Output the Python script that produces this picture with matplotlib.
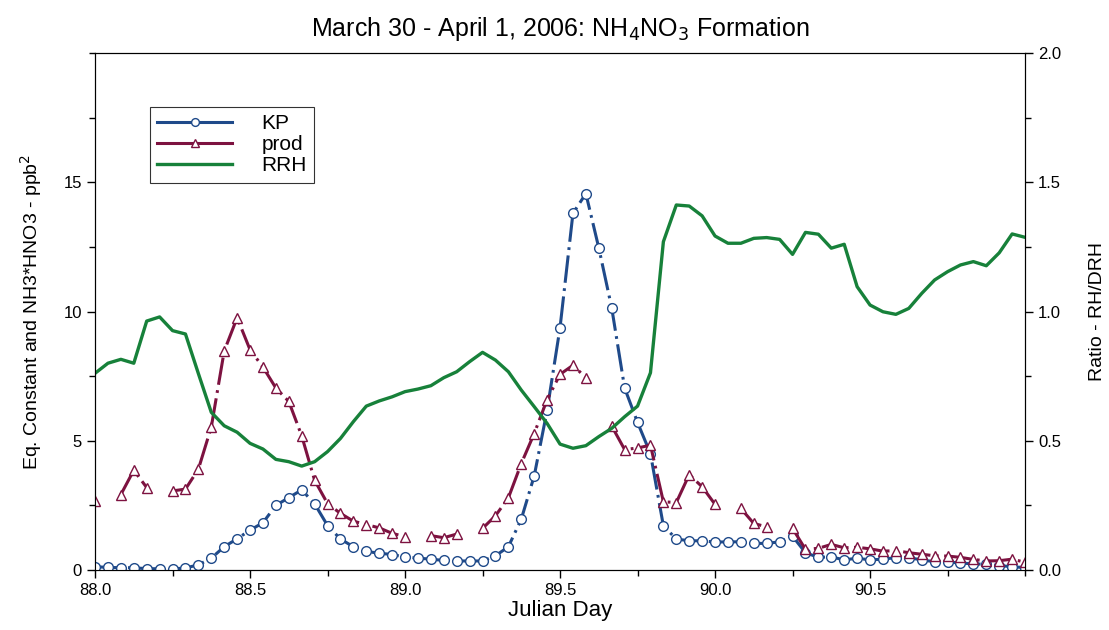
import numpy as np
import matplotlib
matplotlib.use('Agg')
import matplotlib.pyplot as plt
from matplotlib.ticker import MultipleLocator

plt.rcParams['font.family'] = ['Liberation Sans', 'DejaVu Sans']

# hourly samples, day 88.0 to 91.0
hours = np.arange(73)
julian = 88 + hours / 24

kp = [0.13, 0.10, 0.09, 0.09, 0.05, 0.05, 0.04, 0.08, 0.20, 0.46,
      0.90, 1.21, 1.54, 1.83, 2.50, 2.80, 3.10, 2.56, 1.72, 1.20,
      0.90, 0.72, 0.65, 0.60, 0.50, 0.46, 0.42, 0.37, 0.35, 0.35,
      0.35, 0.55, 0.90, 1.97, 3.64, 6.18, 9.38, 13.8, 14.56, 12.46,
      10.14, 7.04, 5.71, 4.50, 1.71, 1.20, 1.13, 1.13, 1.08, 1.09,
      1.09, 1.03, 1.03, 1.09, 1.31, 0.67, 0.49, 0.51, 0.39, 0.46,
      0.39, 0.42, 0.48, 0.48, 0.39, 0.32, 0.30, 0.28, 0.23, 0.23,
      0.17, 0.13, 0.09]

nan = np.nan
prod = [2.68, nan, 2.92, 3.86, 3.19, nan, 3.06, 3.13, 3.90, 5.53,
        8.47, 9.76, 8.52, 7.85, 7.04, 6.52, 5.19, 3.47, 2.57, 2.19,
        1.89, 1.76, 1.63, 1.42, 1.29, nan, 1.33, 1.25, 1.39, nan,
        1.61, 2.10, 2.79, 4.12, 5.28, 6.59, 7.57, 7.92, 7.44, nan,
        5.57, 4.66, 4.72, 4.83, 2.64, 2.61, 3.69, 3.22, 2.54, nan,
        2.38, 1.80, 1.67, nan, 1.61, 0.80, 0.84, 0.99, 0.86, 0.88,
        0.82, 0.73, 0.75, 0.67, 0.61, 0.55, 0.54, 0.49, 0.41, 0.35,
        0.36, 0.42, 0.30]

rrh = [0.761, 0.80, 0.815, 0.80, 0.963, 0.979, 0.926, 0.913, 0.76, 0.61,
       0.558, 0.533, 0.49, 0.468, 0.428, 0.419, 0.402, 0.419, 0.458, 0.509,
       0.574, 0.634, 0.654, 0.67, 0.69, 0.70, 0.713, 0.744, 0.767, 0.806,
       0.842, 0.812, 0.767, 0.696, 0.632, 0.567, 0.487, 0.471, 0.481, 0.516,
       0.548, 0.593, 0.634, 0.763, 1.27, 1.412, 1.408, 1.37, 1.292, 1.264,
       1.264, 1.283, 1.286, 1.279, 1.221, 1.306, 1.299, 1.245, 1.26, 1.096,
       1.025, 0.999, 0.989, 1.012, 1.07, 1.122, 1.154, 1.18, 1.193, 1.177,
       1.227, 1.30, 1.287]

blue = '#1f4a8a'
maroon = '#7d1240'
green = '#17813a'

fig = plt.figure(figsize=(11.09, 6.30), dpi=100)
ax = fig.add_axes([0.0857, 0.0952, 0.8386, 0.8207])
ax2 = ax.twinx()

l1, = ax.plot(julian, kp, color=blue, lw=2.2, ls=(0, (9, 1.8, 0.9, 1.8)),
              marker='o', ms=7, mfc='white', mec=blue, mew=1.0, zorder=3)
l2, = ax.plot(julian, prod, color=maroon, lw=2.2, ls=(0, (9, 1.8, 0.9, 1.8)),
              marker='^', ms=7, mfc='white', mec=maroon, mew=1.0, zorder=3)
l3, = ax2.plot(julian, rrh, color=green, lw=2.4, zorder=2)

ax.set_xlim(88, 91)
ax.set_ylim(0, 20)
ax2.set_ylim(0, 2.0)

ax.set_xticks([88.0, 88.5, 89.0, 89.5, 90.0, 90.5])
ax.set_xticklabels(['88.0', '88.5', '89.0', '89.5', '90.0', '90.5'])
ax.xaxis.set_minor_locator(MultipleLocator(0.25))
ax.set_yticks([0, 5, 10, 15])
ax.yaxis.set_minor_locator(MultipleLocator(2.5))
ax2.set_yticks([0.0, 0.5, 1.0, 1.5, 2.0])
ax2.set_yticklabels(['0.0', '0.5', '1.0', '1.5', '2.0'])
ax2.yaxis.set_minor_locator(MultipleLocator(0.25))

for a in (ax, ax2):
    a.tick_params(which='major', direction='out', length=6, width=1, labelsize=12)
    a.tick_params(which='minor', direction='out', length=4, width=1)

ax.set_xlabel('Julian Day', fontsize=16, labelpad=1)
ax.set_ylabel('Eq. Constant and NH3*HNO3 - ppb$^2$', fontsize=14, labelpad=14)
ax2.set_ylabel('Ratio - RH/DRH', fontsize=14, labelpad=20)
ax.set_title('March 30 - April 1, 2006: NH$_4$NO$_3$ Formation', fontsize=18, pad=12)

leg = ax.legend([l1, l2, l3], ['KP', 'prod', 'RRH'], loc='upper left',
                bbox_to_anchor=(0.059, 0.896), fontsize=15, frameon=True,
                fancybox=False, edgecolor='black', handlelength=3.6,
                handletextpad=1.4, borderpad=0.35, labelspacing=0.1,
                markerscale=0.8, borderaxespad=0)
leg.get_frame().set_linewidth(0.8)
for h in leg.get_lines():
    h.set_linestyle('-')

fig.savefig('out.png', dpi=100)
